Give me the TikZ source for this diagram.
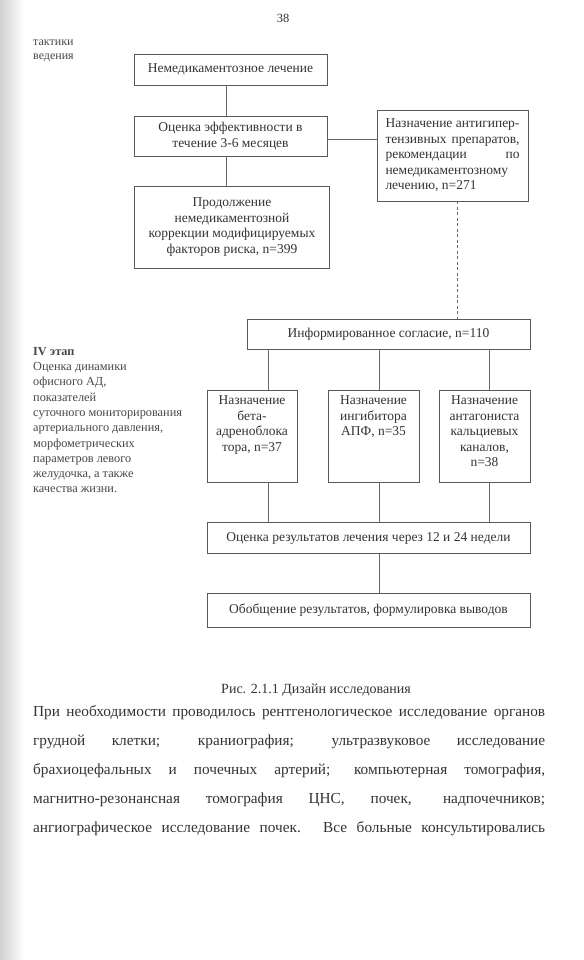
\documentclass[tikz,border=0pt]{standalone}
\usepackage{fontspec}
\setmainfont{Liberation Serif}
\begin{document}
\begin{tikzpicture}[x=1pt,y=-1pt,
  box/.style={draw=black!65, line width=0.6pt, text=black!80, inner sep=0pt, align=center,
    font=\fontsize{13.5}{15.5}\selectfont},
  conn/.style={draw=black!60, line width=0.6pt},
  side/.style={text=black!72, inner sep=0pt, align=left, font=\fontsize{12.3}{15.3}\selectfont},
  body/.style={text=black!80, inner sep=0pt, font=\fontsize{15.3}{29}\selectfont}]
\useasboundingbox (0,0) rectangle (583,960);
\fill[left color=black!18, right color=white] (0,0) rectangle (24,960);

\node[body, font=\fontsize{12.5}{14}\selectfont] (page) at (283,18) {38};
\node[side, anchor=north west, font=\fontsize{12}{13.5}\selectfont] (tact) at (33,40) {тактики\\ведения};

\node[box, minimum width=193pt, minimum height=31pt] (b1) at (230.5,69.5) {Немедикаментозное лечение};
\node[box, minimum width=193pt, minimum height=40pt] (b2) at (230.5,136) {Оценка эффективности в\\течение 3-6 месяцев};
\node[box, minimum width=151pt, minimum height=91pt] (b3) at (452.5,155.5)
  {\parbox{134pt}{\makebox[134pt][s]{Назначение антигипер-}\\
   \makebox[134pt][s]{тензивных препаратов,}\\
   \makebox[134pt][s]{рекомендации\hfill по}\\
   немедикаментозному\\
   лечению, n=271}};
\node[box, minimum width=195pt, minimum height=82pt] (b4) at (232,227)
  {Продолжение\\немедикаментозной\\коррекции модифицируемых\\факторов риска, n=399};

\node[box, minimum width=283pt, minimum height=30pt] (b5) at (388.5,334) {Информированное согласие, n=110};

\node[box] (ba) at (252,436) {\parbox[c][92pt][t]{90pt}{\centering\vspace*{6pt}Назначение\\бета-\\адреноблока\\тора, n=37}};
\node[box] (bb) at (373.5,436) {\parbox[c][92pt][t]{91pt}{\centering\vspace*{6pt}Назначение\\ингибитора\\АПФ, n=35}};
\node[box] (bc) at (484.5,436) {\parbox[c][92pt][t]{91pt}{\centering\vspace*{6pt}Назначение\\антагониста\\кальциевых\\каналов,\\n=38}};

\node[box, minimum width=323pt, minimum height=31pt] (b6) at (368.5,538) {Оценка результатов лечения через 12 и 24 недели};
\node[box, minimum width=323pt, minimum height=34pt] (b7) at (368.5,610) {Обобщение результатов, формулировка выводов};

\node[side, anchor=north west] (stage) at (33,347)
  {\textbf{IV этап}\\Оценка динамики\\офисного АД,\\показателей\\суточного мониторирования\\артериального давления,\\морфометрических\\параметров левого\\желудочка, а также\\качества жизни.};

\draw[conn] ([xshift=-4.5pt]b1.south) -- ([xshift=-4.5pt]b2.north);
\draw[conn] ([xshift=-4.5pt]b2.south) -- ([xshift=-4.5pt]b2.south |- b4.north);
\draw[conn] ([yshift=-3pt]b2.east) -- ([yshift=-3pt]b2.east -| b3.west);
\draw[conn, dash pattern=on 3pt off 2.5pt] ([xshift=5pt]b3.south) -- ([xshift=5pt]b3.south |- b5.north);

\draw[conn] ([xshift=16pt]ba.north |- b5.south) -- ([xshift=16pt]ba.north);
\draw[conn] ([xshift=5.5pt]bb.north |- b5.south) -- ([xshift=5.5pt]bb.north);
\draw[conn] ([xshift=4.5pt]bc.north |- b5.south) -- ([xshift=4.5pt]bc.north);
\draw[conn] ([xshift=16pt]ba.south) -- ([xshift=16pt]ba.south |- b6.north);
\draw[conn] ([xshift=5.5pt]bb.south) -- ([xshift=5.5pt]bb.south |- b6.north);
\draw[conn] ([xshift=4.5pt]bc.south) -- ([xshift=4.5pt]bc.south |- b6.north);
\draw[conn] ([xshift=10.5pt]b6.south) -- ([xshift=10.5pt]b7.north);

\node[body, font=\fontsize{14}{16}\selectfont] (cap) at (316,690) {Рис. 2.1.1 Дизайн исследования};
\node[body, anchor=north west, align=left] (para) at (33,705)
  {\makebox[512pt][s]{При необходимости проводилось рентгенологическое исследование органов}\\
   \makebox[512pt][s]{грудной клетки; краниография; ультразвуковое исследование}\\
   \makebox[512pt][s]{брахиоцефальных и почечных артерий; компьютерная томография,}\\
   \makebox[512pt][s]{магнитно-резонансная томография ЦНС, почек, надпочечников;}\\
   \makebox[512pt][s]{ангиографическое исследование почек. Все больные консультировались}};
\end{tikzpicture}
\end{document}
